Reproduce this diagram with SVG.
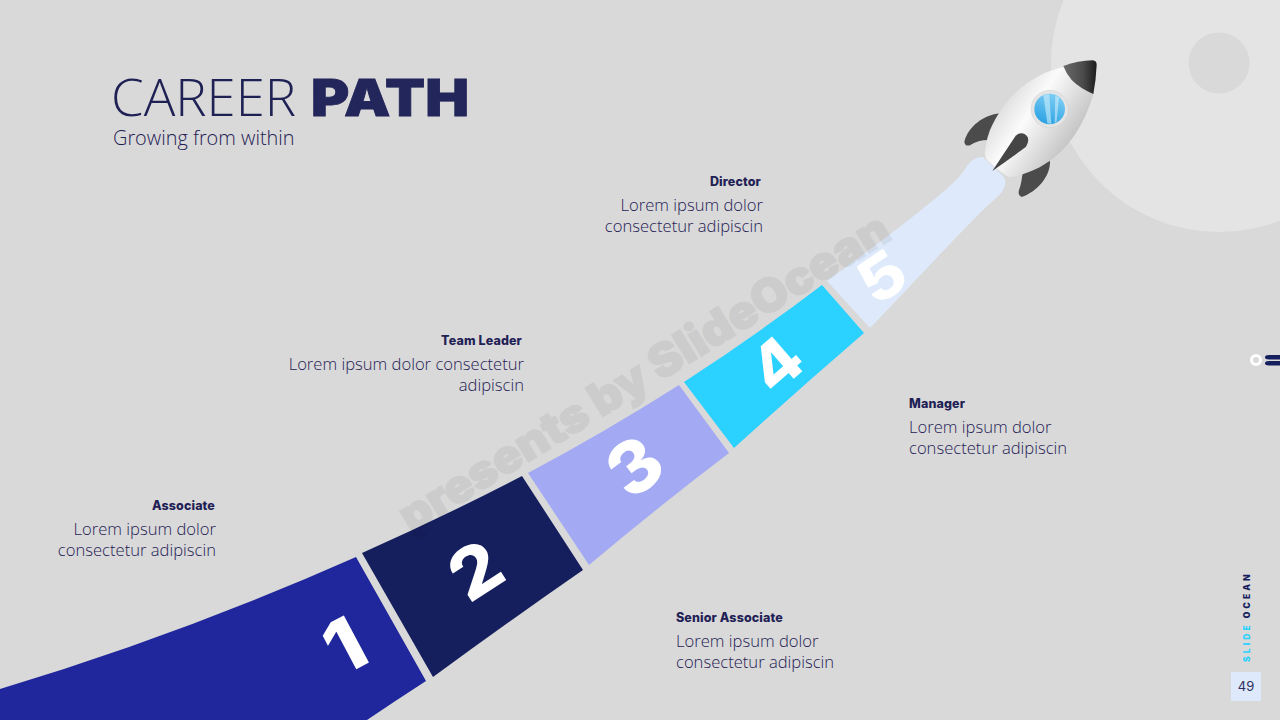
<svg xmlns="http://www.w3.org/2000/svg" width="1280" height="720" viewBox="0 0 1280 720">
<style>
.t{font-family:"Open Sans","Noto Sans",sans-serif;font-size:16.6px;fill:#1f2155;font-weight:300}
.h{font-family:Inter,"Liberation Sans",sans-serif;font-size:12.5px;font-weight:800;fill:#1f2155;letter-spacing:.12px}
.n{font-family:Inter,"Liberation Sans",sans-serif;font-size:72px;font-weight:800;fill:#fff;text-anchor:middle}
.e{text-anchor:end}
</style>
<defs>
<linearGradient id="b" gradientUnits="userSpaceOnUse" x1="190" y1="170" x2="410" y2="320"><stop offset="0" stop-color="#dcdcdc"/><stop offset=".35" stop-color="#fbfbfb"/><stop offset="1" stop-color="#bcbcbc"/></linearGradient>
<linearGradient id="c" x1="0" y1="0" x2="1" y2="0"><stop offset="0" stop-color="#6a6a6a"/><stop offset=".6" stop-color="#4a4a4a"/><stop offset="1" stop-color="#1c1c1c"/></linearGradient>
<linearGradient id="w" x1=".3" y1="1" x2=".7" y2="0"><stop offset="0" stop-color="#2aa0e2"/><stop offset="1" stop-color="#7fd0f5"/></linearGradient>
</defs>
<rect width="1280" height="720" fill="#d9d9d9"/>
<g id="moon"><circle cx="1219" cy="64" r="168" fill="#e4e4e4"/><circle cx="1219" cy="63" r="30.500" fill="#d9d9d9"/></g>
<g id="title">
<text x="111" y="116" font-family="Open Sans" font-weight="300" font-size="51" fill="#1f2155" textLength="185" lengthAdjust="spacingAndGlyphs">CAREER</text>
<text x="311" y="116" font-family="Inter" font-weight="900" font-size="51" fill="#23265a" stroke="#23265a" stroke-width=".8" textLength="158" lengthAdjust="spacingAndGlyphs">PATH</text>
<text x="113" y="145" font-family="Open Sans" font-weight="300" font-size="19.900" fill="#1f2155">Growing from within</text>
</g>
<g id="step1"><path d="M0 689Q180 635 356 557L426 681Q395 701 367 720H0Z" fill="#20269b"/><text class="n" transform="translate(357 669) rotate(-28) scale(1.15 1.02)">1</text></g>
<g id="step2"><path d="M362 553Q445 516 522 476L583 570Q505 624 433 677Z" fill="#161f5e"/><text class="n" transform="translate(489 591) rotate(-33) scale(1.05 .96)">2</text></g>
<g id="step3"><path d="M528 473Q605 432 679 385L729 453Q658 507 589 565Z" fill="#a3aaf3"/><text class="n" transform="translate(650 487) rotate(-37) scale(1.05 1)">3</text></g>
<g id="step4"><path d="M684 382Q755 336 822 285L864 333Q798 390 734 448Z" fill="#2bd1ff"/><text class="n" transform="translate(791 381) rotate(-41) scale(.95 .88)">4</text></g>
<g id="step5"><path d="M827 281C860 257 900 228 937 197C950 186 960 178 967 166Q973 157 983 157L1003 176Q1008 182 1002 192C995 200 990 203 985 208C945 248 905 292 870 328Z" fill="#deeafb"/><text class="n" transform="translate(894 295) rotate(-34) scale(.95 .85)">5</text></g>
<g id="watermark" opacity=".055"><text transform="translate(411 534) rotate(-31.500)" font-family="Inter" font-weight="900" font-size="46" fill="#000" stroke="#000" stroke-width="1.500" textLength="566" lengthAdjust="spacingAndGlyphs">presents by SlideOcean</text></g>
<g id="rocket" transform="translate(940 40) scale(.33333)">
<path d="M180 220C130 225 85 260 73 305Q75 320 90 316C105 305 125 300 145 300Z" fill="#4b4b4b"/>
<path d="M330 362C332 410 290 455 245 471Q232 465 237 450C245 430 245 415 248 400Z" fill="#4b4b4b"/>
<path d="M372 80C280 100 195 165 150 270Q135 310 135 345Q136 358 150 368Q185 400 205 410Q225 412 250 402C340 375 420 300 461 160Z" fill="url(#b)"/>
<path d="M370 78Q415 62 458 61Q470 62 470 75Q468 120 460 162Q420 145 395 120Q378 100 370 78Z" fill="url(#c)"/>
<path d="M157 393L225 290C237 275 255 278 263 292Q268 305 258 320C225 345 190 370 157 393Z" fill="#454545"/>
<circle cx="329" cy="207" r="56" fill="#e4e4e4" stroke="#c4c4c4" stroke-width="1"/>
<circle cx="329" cy="207" r="46" fill="url(#w)"/>
<path d="M310 165L328 163L334 252L322 250ZM346 167L357 172L350 245L344 248Z" fill="#d8f2fc" fill-opacity=".55"/>
</g>
<g id="label1"><text class="h e" x="215" y="510">Associate</text><text class="t e" x="216" y="535">Lorem ipsum dolor</text><text class="t e" x="216" y="556">consectetur adipiscin</text></g>
<g id="label2"><text class="h" x="676" y="622">Senior Associate</text><text class="t" x="676" y="647">Lorem ipsum dolor</text><text class="t" x="676" y="668">consectetur adipiscin</text></g>
<g id="label3"><text class="h e" x="522" y="345">Team Leader</text><text class="t e" x="524" y="370">Lorem ipsum dolor consectetur</text><text class="t e" x="524" y="391">adipiscin</text></g>
<g id="label4"><text class="h" x="909" y="408">Manager</text><text class="t" x="909" y="433">Lorem ipsum dolor</text><text class="t" x="909" y="454">consectetur adipiscin</text></g>
<g id="label5"><text class="h e" x="761" y="186">Director</text><text class="t e" x="763" y="211">Lorem ipsum dolor</text><text class="t e" x="763" y="232">consectetur adipiscin</text></g>
<g id="nav"><circle cx="1256" cy="360" r="4.500" fill="none" stroke="#fff" stroke-width="3"/><path d="M1269 355H1280V359.500H1269Q1265 359.500 1265 357.250Q1265 355 1269 355ZM1269 361H1280V365.500H1269Q1265 365.500 1265 363.250Q1265 361 1269 361Z" fill="#161f5e"/></g>
<g id="brand"><text transform="translate(1250 662) rotate(-90)" font-family="Inter" font-weight="900" font-size="8.500" letter-spacing="3.100"><tspan fill="#2bd1ff">SLIDE</tspan><tspan fill="#161f5e" dx="4">OCEAN</tspan></text></g>
<g id="page"><rect x="1231" y="672" width="30" height="29" fill="#deeafb"/><text x="1246" y="691" text-anchor="middle" font-family="Inter" font-size="13" fill="#2f2f5e">49</text></g>
</svg>
